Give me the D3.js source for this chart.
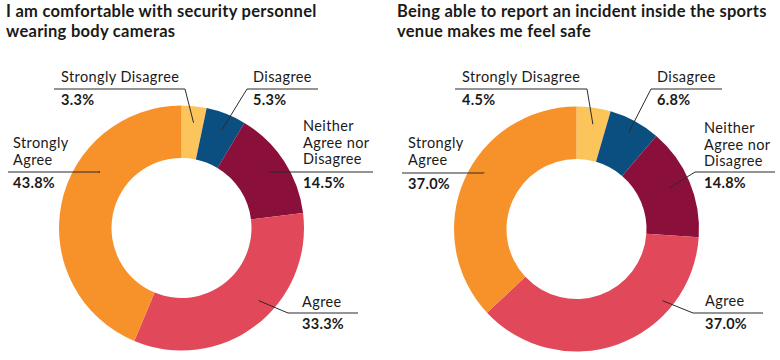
<!DOCTYPE html>
<html>
<head>
<meta charset="utf-8">
<script src="https://cdn.jsdelivr.net/npm/d3@7"></script>
<style>
  html, body { margin: 0; padding: 0; background: #fff; }
  svg { display: block; }
  text { font-family: Lato, "Noto Sans", sans-serif; fill: #1a1a1a; }
</style>
</head>
<body>
<svg id="chart" width="780" height="360"></svg>
<script>
// ---- data ----
const categories = ["Strongly Disagree", "Disagree", "Neither Agree nor Disagree", "Agree", "Strongly Agree"];
const labelLines = [["Strongly Disagree"], ["Disagree"], ["Neither", "Agree nor", "Disagree"], ["Agree"], ["Strongly", "Agree"]];
const leftTitle = ["I am comfortable with security personnel", "wearing body cameras"];
const leftValues = [3.3, 5.3, 14.5, 33.3, 43.8];
const rightTitle = ["Being able to report an incident inside the sports", "venue makes me feel safe"];
const rightValues = [4.5, 6.8, 14.8, 37.0, 37.0];
const colors = ["#fbc55b", "#0b4f80", "#8b0f3b", "#e1485a", "#f7922b"];

// ---- layout (label placement, not data) ----
const leftLayout = {
  cx: 181.5, cy: 228, titleX: 6,
  labels: [
    { tx: 61,  ty: 82,  ux0: 54,  ux1: 185, uy: 89,  join: 1, frac: 0.55 },
    { tx: 253, ty: 82,  ux0: 247, ux1: 318, uy: 89,  join: 0, frac: 0.55 },
    { tx: 303, ty: 131, ux0: 272, ux1: 373, uy: 172, join: 0, frac: 0.5, r: 104 },
    { tx: 302, ty: 307, ux0: 288, ux1: 358, uy: 313, join: 0, frac: 0.42 },
    { tx: 13,  ty: 148, ux0: 8,   ux1: 100, uy: 172, join: 1, frac: 0.645, r: 100 }
  ]
};
const rightLayout = {
  cx: 576.5, cy: 229, titleX: 397,
  labels: [
    { tx: 462, ty: 82,  ux0: 455, ux1: 587, uy: 89,  join: 1, frac: 0.55 },
    { tx: 657, ty: 82,  ux0: 651, ux1: 722, uy: 89,  join: 0, frac: 0.5, r: 110 },
    { tx: 704, ty: 133, ux0: 695, ux1: 775, uy: 172, join: 0, frac: 0.48, r: 102 },
    { tx: 705, ty: 306, ux0: 693, ux1: 763, uy: 313, join: 0, frac: 0.27, r: 112 },
    { tx: 408, ty: 148, ux0: 402, ux1: 483, uy: 173, join: 1, frac: 0.56, r: 108 }
  ]
};

const svg = d3.select("#chart");
const rOuter = 122.5, rInner = 70;

function drawDonut(values, title, layout) {
  const g = svg.append("g");
  // title
  const t = g.append("text")
    .attr("x", layout.titleX).attr("y", 17)
    .style("font-size", "16.5px").style("font-weight", "700")
    .style("letter-spacing", "0.28px");
  title.forEach((line, i) => t.append("tspan").attr("x", layout.titleX).attr("y", 17 + i * 19.5).text(line));

  const pie = d3.pie().sort(null).value(d => d)(values);
  const arc = d3.arc().innerRadius(rInner).outerRadius(rOuter);
  const gp = g.append("g").attr("transform", `translate(${layout.cx},${layout.cy})`);
  gp.selectAll("path").data(pie).join("path")
    .attr("d", arc)
    .attr("fill", (d, i) => colors[i]);

  pie.forEach((d, i) => {
    const L = layout.labels[i];
    const a = d.startAngle + (d.endAngle - d.startAngle) * L.frac;
    const r = L.r || 106;
    const px = layout.cx + r * Math.sin(a);
    const py = layout.cy - r * Math.cos(a);
    const jx = L.join ? L.ux1 : L.ux0;
    g.append("path")
      .attr("d", `M${px},${py}L${jx},${L.uy}`)
      .attr("stroke", "#2b2b2b").attr("stroke-width", 1).attr("fill", "none");
    g.append("line")
      .attr("x1", L.ux0).attr("x2", L.ux1).attr("y1", L.uy).attr("y2", L.uy)
      .attr("stroke", "#2b2b2b").attr("stroke-width", 1);
    labelLines[i].forEach((line, k) => {
      g.append("text").attr("x", L.tx).attr("y", L.ty + k * 16.5)
        .style("font-size", "14.5px").style("letter-spacing", "0.4px").text(line);
    });
    g.append("text").attr("x", L.tx).attr("y", L.uy + 15.5)
      .style("font-size", "14.5px").style("font-weight", "700")
      .style("letter-spacing", "0.3px")
      .text(d3.format(".1f")(values[i]) + "%");
  });
}

drawDonut(leftValues, leftTitle, leftLayout);
drawDonut(rightValues, rightTitle, rightLayout);
</script>
</body>
</html>
